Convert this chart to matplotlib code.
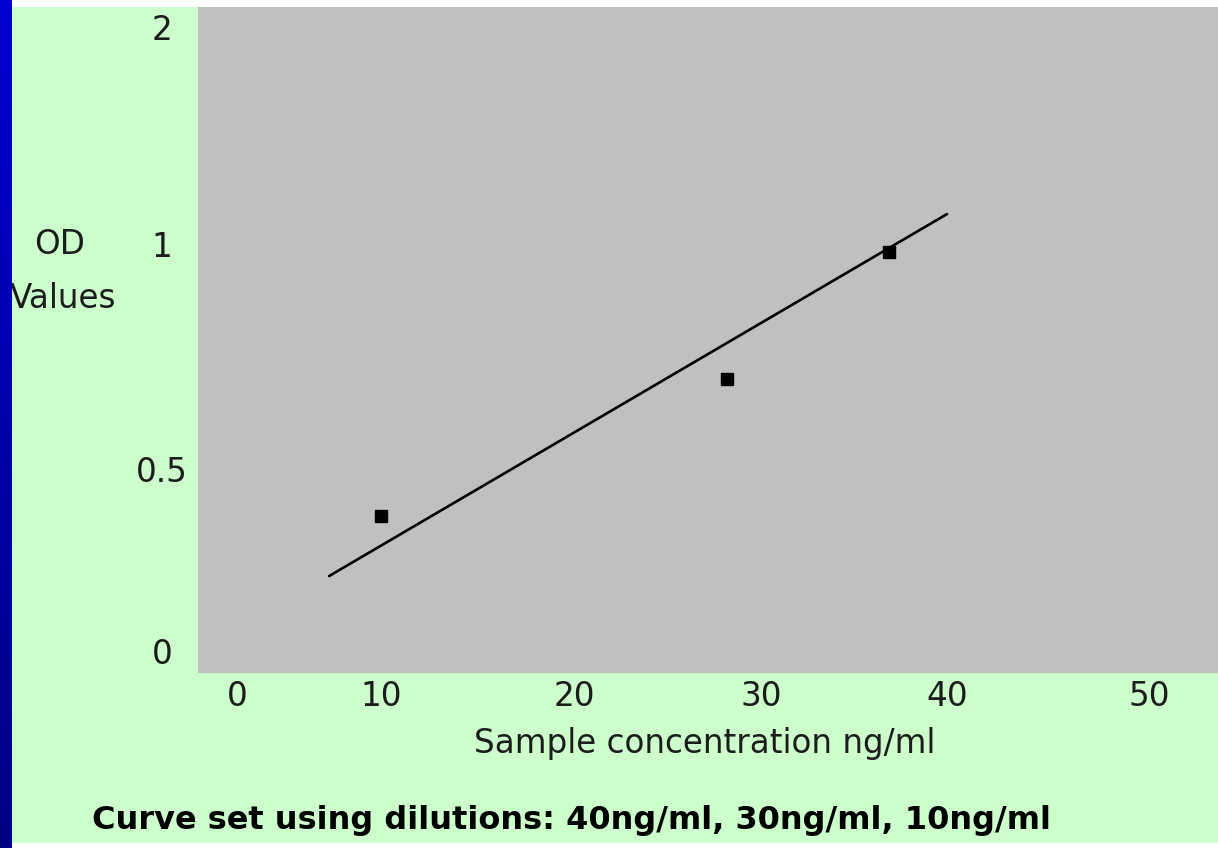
import numpy as np
import matplotlib
matplotlib.use("Agg")
import matplotlib.pyplot as plt

# Measured standards and the fitted calibration line
conc_ng_ml = [10.0, 28.2, 36.9]
od_values = [0.371, 0.700, 0.983]
fit_conc = [6.4, 40.0]
fit_od = [0.206, 1.138]

x_ticks = [0, 10, 20, 30, 40, 50]
y_ticks = [0, 0.5, 1, 2]
y_tick_labels = ["0", "0.5", "1", "2"]

x_label = "Sample concentration ng/ml"
y_label_lines = ["OD", "Values"]
caption = "Curve set using dilutions: 40ng/ml, 30ng/ml, 10ng/ml"

W, H = 1218, 848
GREEN = "#CCFFCC"
GRAY = "#C0C0C0"
INK = "#1c1c1c"


def piecewise(vals, pos):
    """Uneven axis: linear between the tick anchors, extrapolated at both ends."""
    vals = np.asarray(vals, float)
    pos = np.asarray(pos, float)

    def mapper(a, b):
        s0 = (b[1] - b[0]) / (a[1] - a[0])
        s1 = (b[-1] - b[-2]) / (a[-1] - a[-2])

        def f(v):
            v = np.asarray(v, float)
            out = np.interp(v, a, b)
            out = np.where(v < a[0], b[0] + (v - a[0]) * s0, out)
            out = np.where(v > a[-1], b[-1] + (v - a[-1]) * s1, out)
            return out
        return f

    return mapper(vals, pos), mapper(pos, vals)


# tick anchors of the axes (in figure pixels)
x_fwd, x_inv = piecewise(x_ticks, [237, 381, 574, 761, 947, 1149])
y_fwd, y_inv = piecewise([0, 0.5, 1, 2], [H - 651, H - 469, H - 244, H - 27])

plt.rcParams["font.family"] = ["DejaVu Sans"]

fig = plt.figure(figsize=(W / 100, H / 100), dpi=100, facecolor=GREEN)

ax_l, ax_r, ax_t, ax_b = 198, 1218, 7, 673
ax = fig.add_axes([ax_l / W, (H - ax_b) / H, (ax_r - ax_l) / W, (ax_b - ax_t) / H])
ax.set_facecolor(GRAY)
for s in ax.spines.values():
    s.set_visible(False)

ax.set_xscale("function", functions=(x_fwd, x_inv))
ax.set_yscale("function", functions=(y_fwd, y_inv))
ax.set_xlim(float(x_inv(ax_l)), float(x_inv(ax_r)))
ax.set_ylim(float(y_inv(H - ax_b)), float(y_inv(H - ax_t)))

ax.plot(fit_conc, fit_od, color="black", lw=1.9, solid_capstyle="round", zorder=2)
ax.plot(conc_ng_ml, od_values, ls="none", marker="s", ms=8.5, color="black", zorder=3)

ax.set_xticks(x_ticks, [str(t) for t in x_ticks])
ax.set_yticks(y_ticks, y_tick_labels)
ax.minorticks_off()
fs = 23.5
ax.tick_params(axis="x", length=0, pad=23 * 0.72, labelsize=fs, labelcolor=INK)
ax.tick_params(axis="y", length=0, pad=36 * 0.72, labelsize=fs, labelcolor=INK)
plt.setp(ax.get_xticklabels(), va="center")
plt.setp(ax.get_yticklabels(), ha="center")

ax.set_xlabel(x_label, fontsize=fs, color=INK)
ax.xaxis.set_label_coords((705 - ax_l) / (ax_r - ax_l), (ax_b - 743) / (ax_b - ax_t))
ax.xaxis.label.set_va("center")

fig.text(60 / W, 1 - 244 / H, y_label_lines[0], fontsize=fs, color=INK, ha="center", va="center")
fig.text(116 / W, 1 - 298 / H, y_label_lines[1], fontsize=fs, color=INK, ha="right", va="center")

fig.text(92 / W, 1 - 820 / H, caption, fontsize=23, fontweight="bold", color="black",
         ha="left", va="center")

# white bands along the top and bottom edges
fig.patches.append(plt.Rectangle((0, 1 - 7 / H), 1, 7 / H, transform=fig.transFigure,
                                 facecolor="white", edgecolor="none", zorder=8))
fig.patches.append(plt.Rectangle((0, 0), 1, 5 / H, transform=fig.transFigure,
                                 facecolor="white", edgecolor="none", zorder=8))

# blue gradient strip at the left edge
strip = fig.add_axes([0, 0, 12 / W, 1], zorder=10)
grad = np.linspace(0, 1, 256).reshape(-1, 1)
top_c = np.array([0.0, 0.0, 0.82])
bot_c = np.array([0.0, 0.0, 0.52])
img = top_c[None, None, :] * (1 - grad[:, :, None]) + bot_c[None, None, :] * grad[:, :, None]
strip.imshow(img, aspect="auto", extent=(0, 1, 0, 1), origin="upper")
strip.set_axis_off()

fig.savefig("out.png", dpi=100, facecolor=GREEN)
